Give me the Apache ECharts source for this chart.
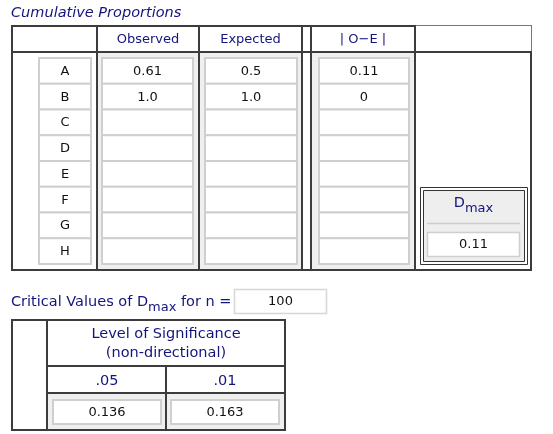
<!DOCTYPE html>
<html>
<head>
<meta charset="utf-8">
<script src="https://cdn.jsdelivr.net/npm/echarts@6/dist/echarts.min.js"></script>
<style>
html,body{margin:0;padding:0;background:#fff;}
#chart{width:553px;height:434px;}
</style>
</head>
<body>
<div id="chart"></div>
<script>
// ---------- data ----------
const rowLabels = ['A', 'B', 'C', 'D', 'E', 'F', 'G', 'H'];
const observed = [0.61, 1.0, null, null, null, null, null, null];
const expected = [0.5, 1.0, null, null, null, null, null, null];
const absDiff = [0.11, 0, null, null, null, null, null, null];
const dMax = 0.11;
const sampleN = 100;
const sigLevels = ['.05', '.01'];
const criticalValues = [0.136, 0.163];
const columnTitles = ['Observed', 'Expected', '| O\u2212E |'];

// ---------- styles ----------
const FONT = '"DejaVu Sans", Verdana, sans-serif';
const NAVY = '#14147e';
const DARK = '#3c3c3c';
const BOXLINE = '#cfcfcf';
const GRAYBG = '#efefef';

function fmtProp(v) { return v == null ? '' : (Number.isInteger(v) ? v.toFixed(1) : String(v)); }
function fmtDiff(v) { return v == null ? '' : String(v); }

const measureCtx = document.createElement('canvas').getContext('2d');
function textW(str, font) { measureCtx.font = font; return measureCtx.measureText(str).width; }

// ---------- column grids (boxes drawn through category axes) ----------
const columns = [
  { texts: rowLabels.slice(), box: { left: 39, width: 52 } },
  { texts: observed.map(fmtProp), box: { left: 102, width: 91 } },
  { texts: expected.map(fmtProp), box: { left: 205, width: 92 } },
  { texts: absDiff.map(fmtDiff), box: { left: 319, width: 90 } }
];

const grid = [], xAxis = [], yAxis = [], series = [];
columns.forEach((col, ci) => {
  grid.push({ left: col.box.left, width: col.box.width, top: 58, height: 206, containLabel: false });
  xAxis.push({ type: 'category', gridIndex: ci, data: ['c' + ci], show: false });
  yAxis.push({ type: 'category', gridIndex: ci, data: rowLabels, inverse: true, show: false });
  series.push({
    type: 'custom', xAxisIndex: ci, yAxisIndex: ci, silent: true, clip: false,
    data: rowLabels.map((_, i) => [0, i]),
    renderItem: function (params, api) {
      const c = api.coord([api.value(0), api.value(1)]);
      const s = api.size([1, 1]);
      const t = col.texts[params.dataIndex];
      return {
        type: 'group', children: [
          { type: 'rect', shape: { x: c[0] - s[0] / 2, y: c[1] - s[1] / 2, width: s[0], height: s[1] },
            style: { fill: '#fff', stroke: BOXLINE, lineWidth: 2 } },
          { type: 'text', x: c[0], y: c[1] + 0.5,
            style: { text: t, font: '13px ' + FONT, fill: '#111', align: 'center', verticalAlign: 'middle' } }
        ]
      };
    }
  });
});

// critical values grid
const gi = columns.length;
grid.push({ left: 48, width: 236, top: 400, height: 24, containLabel: false });
xAxis.push({ type: 'category', gridIndex: gi, data: sigLevels, show: false });
yAxis.push({ type: 'category', gridIndex: gi, data: ['crit'], show: false });
series.push({
  type: 'custom', xAxisIndex: gi, yAxisIndex: gi, silent: true, clip: false,
  data: sigLevels.map((_, i) => [i, 0]),
  renderItem: function (params, api) {
    const c = api.coord([api.value(0), api.value(1)]);
    const s = api.size([1, 1]);
    const w = s[0] - 10;
    return {
      type: 'group', children: [
        { type: 'text', x: c[0], y: c[1] - 31,
          style: { text: sigLevels[params.dataIndex], font: '14.5px ' + FONT, fill: NAVY, align: 'center', verticalAlign: 'middle' } },
        { type: 'rect', shape: { x: c[0] - w / 2, y: c[1] - s[1] / 2, width: w, height: s[1] },
          style: { fill: '#fff', stroke: BOXLINE, lineWidth: 2 } },
        { type: 'text', x: c[0], y: c[1] + 0.5,
          style: { text: String(criticalValues[params.dataIndex]), font: '13px ' + FONT, fill: '#111', align: 'center', verticalAlign: 'middle' } }
      ]
    };
  }
});

// ---------- frames and static text ----------
const g = [];
function line(x1, y1, x2, y2, stroke, lw) {
  g.push({ type: 'line', shape: { x1, y1, x2, y2 }, style: { stroke: stroke || DARK, lineWidth: lw || 2 }, silent: true });
}
function rect(x, y, w, h, fill, stroke, lw) {
  g.push({ type: 'rect', shape: { x, y, width: w, height: h }, style: { fill: fill || 'none', stroke: stroke || null, lineWidth: lw || 0 }, silent: true });
}
function text(str, x, y, font, fill, align) {
  g.push({ type: 'text', x, y, style: { text: str, font, fill: fill || NAVY, align: align || 'center', verticalAlign: 'middle' }, silent: true });
}

// title
text('Cumulative Proportions', 11, 13, 'italic 14.5px ' + FONT, NAVY, 'left');

// gray column backgrounds
rect(98, 53, 100, 216, GRAYBG);
rect(200, 53, 101, 216, GRAYBG);
rect(312, 53, 102, 216, GRAYBG);

// main table lines
line(11, 26, 416, 26);
line(415, 25.5, 532, 25.5, '#777', 1);
line(531.5, 25, 531.5, 52, '#777', 1);
line(11, 52, 532, 52);
line(11, 270, 532, 270);
line(12, 25, 12, 271);
line(531, 52, 531, 271);
[97, 199, 302, 311, 415].forEach(x => line(x, 25, x, 271));

// column headers
text(columnTitles[0], 148, 39.5, '13px ' + FONT);
text(columnTitles[1], 250.5, 39.5, '13px ' + FONT);
text(columnTitles[2], 363, 39.5, '13px ' + FONT);

// Dmax box
rect(420.5, 187.5, 107, 77, '#fff', '#333', 1);
rect(423.5, 190.5, 101, 71, '#eeeeee', '#333', 1);
(function () {
  const fD = '14.5px ' + FONT, fS = '13px ' + FONT;
  const wD = textW('D', fD), wS = textW('max', fS);
  const x0 = 473.5 - (wD + wS) / 2;
  text('D', x0, 203.5, fD, NAVY, 'left');
  text('max', x0 + wD, 209, fS, NAVY, 'left');
})();
line(427, 223.5, 520, 223.5, '#cccccc', 1.5);
rect(427.5, 232.5, 92, 24, '#fff', BOXLINE, 1.5);
text(String(dMax), 473.5, 245, '13px ' + FONT, '#111');

// critical values caption
(function () {
  const f1 = '14.5px ' + FONT, fS = '13px ' + FONT;
  const a = 'Critical Values of D', b = 'max', c = ' for n =';
  const wa = textW(a, f1), wb = textW(b, fS);
  text(a, 11, 302.5, f1, NAVY, 'left');
  text(b, 11 + wa, 307.5, fS, NAVY, 'left');
  text(c, 11 + wa + wb, 302.5, f1, NAVY, 'left');
})();
rect(234.5, 289.5, 92, 24, '#fff', '#d6d6d6', 1.5);
text(String(sampleN), 280.5, 302, '13px ' + FONT, '#111');

// bottom table
rect(48, 394, 236, 35, GRAYBG);
line(11, 320, 286, 320);
line(11, 430, 286, 430);
line(12, 319, 12, 431);
line(285, 319, 285, 431);
line(47, 319, 47, 431);
line(46, 366, 286, 366);
line(46, 393, 286, 393);
line(166, 366, 166, 431);
text('Level of Significance', 166, 334.5, '14.5px ' + FONT);
text('(non-directional)', 166, 353, '14.5px ' + FONT);

const chart = echarts.init(document.getElementById('chart'), null, { renderer: 'canvas' });
chart.setOption({
  animation: false,
  backgroundColor: '#fff',
  grid, xAxis, yAxis, series,
  graphic: { elements: g }
});
</script>
</body>
</html>
